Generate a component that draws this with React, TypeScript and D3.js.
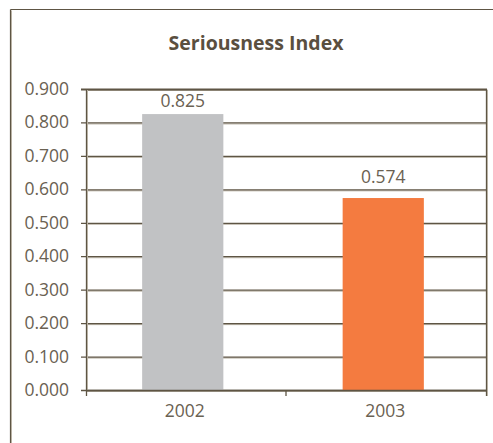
import React from "react";
import * as d3 from "d3";

const categories = ["2002", "2003"];
const values = [0.825, 0.574];
const valueLabels = ["0.825", "0.574"];
const barColors = ["#c1c2c4", "#f47b40"];
const yTicks = [0, 0.1, 0.2, 0.3, 0.4, 0.5, 0.6, 0.7, 0.8, 0.9];
const title = "Seriousness Index";

const W = 493;
const H = 443;
const left = 86;
const right = 487;
const top = 89;
const bottom = 390;
const dark = "#5e5544";
const light = "#b9b2a4";
const textColor = "#6a6152";
const font = "'Open Sans', sans-serif";
const fs = 17.5;

export default function App() {
  const x = d3.scaleBand<string>().domain(categories).range([left, right]).paddingInner(0).paddingOuter(0);
  const y = d3.scaleLinear().domain([0, 0.9]).range([bottom, top]);
  const bw = x.bandwidth() * 0.405;
  const edges = [left, ...categories.map((c) => (x(c) as number) + x.bandwidth())];

  return (
    <svg width={W} height={H} style={{ position: "absolute", left: 0, top: 0, background: "#fff" }}>
      <line x1={10.5} y1={9.5} x2={W} y2={9.5} stroke={dark} strokeWidth={1.2} />
      <line x1={10.5} y1={9.5} x2={10.5} y2={H} stroke={dark} strokeWidth={1.2} />
      <line x1={11.5} y1={10.5} x2={11.5} y2={H} stroke={light} strokeWidth={1} />
      <text x={256} y={50} textAnchor="middle" fontFamily={font} fontWeight={700} fontSize={19.5} fill="#5a4f3f">
        {title}
      </text>
      {yTicks.map((t) => (
        <g key={t}>
          <line x1={left + 1} x2={right} y1={y(t) + 1.5} y2={y(t) + 1.5} stroke={light} strokeWidth={1} />
          <line x1={left - 5} x2={right} y1={y(t) + 0.5} y2={y(t) + 0.5} stroke={dark} strokeWidth={t === 0.9 ? 2 : 1.3} />
          <text x={69} y={y(t) + 6} textAnchor="end" fontFamily={font} fontSize={fs} fill={textColor}>
            {t.toFixed(3)}
          </text>
        </g>
      ))}
      <line x1={left + 0.5} x2={left + 0.5} y1={top} y2={bottom + 6} stroke={dark} strokeWidth={1.3} />
      <line x1={left + 1.5} x2={left + 1.5} y1={top + 1} y2={bottom} stroke={light} strokeWidth={1} />
      {edges.slice(1).map((e, i) => (
        <g key={i}>
          <line x1={e - 0.5} x2={e - 0.5} y1={i === edges.length - 2 ? top : bottom} y2={bottom + 6} stroke={dark} strokeWidth={1.3} />
          {i === edges.length - 2 && <line x1={e + 0.5} x2={e + 0.5} y1={top + 1} y2={bottom + 6} stroke={light} strokeWidth={1} />}
        </g>
      ))}
      {categories.map((c, i) => {
        const cx = (x(c) as number) + x.bandwidth() / 2 - 3.5;
        return (
          <g key={c}>
            <rect x={cx - bw / 2} y={y(values[i])} width={bw} height={bottom - y(values[i])} fill={barColors[i]} />
            <text x={cx} y={y(values[i]) - (i === 0 ? 7 : 15)} textAnchor="middle" fontFamily={font} fontSize={fs} fill={textColor}>
              {valueLabels[i]}
            </text>
            <text x={cx + 2} y={bottom + 27} textAnchor="middle" fontFamily={font} fontSize={fs} fill={textColor}>
              {c}
            </text>
          </g>
        );
      })}
      <line x1={left} x2={right} y1={bottom + 0.5} y2={bottom + 0.5} stroke={dark} strokeWidth={1.5} />
    </svg>
  );
}
